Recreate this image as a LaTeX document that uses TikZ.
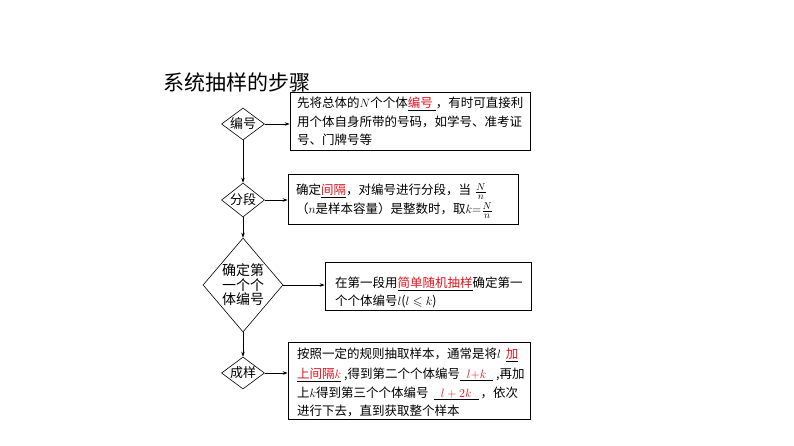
\documentclass[tikz,border=0pt]{standalone}
\usepackage{amsmath}
\usepackage{amssymb}
\usepackage{fontspec}
\setmainfont{Noto Sans CJK SC}
\usetikzlibrary{shapes.geometric,arrows.meta,shadows}
\definecolor{ans}{RGB}{220,20,30}
\newcommand\myfr[2]{\ensuremath{\genfrac{}{}{0.4pt}{}{\mbox{\fontsize{10}{10}\selectfont$#1$}}{\mbox{\fontsize{10}{10}\selectfont$#2$}}}}
\begin{document}
\begin{tikzpicture}[x=1pt,y=-1pt,
  dia/.style={draw, diamond, inner sep=0, line width=0.6pt},
  dtext/.style={inner sep=0, align=center, font=\fontsize{13}{13}\selectfont},
  fbox/.style={draw, fill=white, inner sep=0, line width=0.7pt,
    drop shadow={shadow xshift=0.9pt, shadow yshift=-0.9pt, fill=black!75, opacity=1}},
  txt/.style={anchor=base west, inner sep=0, font=\fontsize{12.5}{12.5}\selectfont},
  conn/.style={line width=0.6pt, -{Stealth[length=5pt,width=3.5pt]}}]
\useasboundingbox (0,0) rectangle (794,446);

\node[anchor=west, inner sep=0, font=\fontsize{21}{21}\selectfont] (title) at (163,82) {系统抽样的步骤};

% diamonds
\node[dia, minimum width=43, minimum height=32] (d1) at (243,124) {};
\node[dtext] (t1) at (d1) {编号};
\node[dia, minimum width=43, minimum height=34] (d2) at (243,200) {};
\node[dtext] (t2) at (d2) {分段};
\node[dia, minimum width=80, minimum height=94] (d3) at (243,285) {};
\node[dtext, font=\fontsize{14}{14.5}\selectfont] (t3) at (d3) {确定第\\一个个\\体编号};
\node[dia, minimum width=43, minimum height=32] (d4) at (243,373) {};
\node[dtext] (t4) at (d4) {成样};

% boxes
\node[fbox, minimum width=240, minimum height=58] (b1) at (410,121) {};
\node[fbox, minimum width=230, minimum height=50] (b2) at (403,199) {};
\node[fbox, minimum width=206, minimum height=48] (b3) at (428,286) {};
\node[fbox, minimum width=242, minimum height=77] (b4) at (409,380.5) {};

% connectors
\draw[conn] (d1.east) -- (d1.east -| b1.west);
\draw[conn] (d2.east) -- (d2.east -| b2.west);
\draw[conn] (d3.east) -- (d3.east -| b3.west);
\draw[conn] (d4.east) -- (d4.east -| b4.west);
\draw[conn] (d1.south) -- (d2.north);
\draw[conn] (d2.south) -- (d3.north);
\draw[conn] (d3.south) -- (d4.north);

% box 1 text
\node[txt] (l11) at (297,108) {先将总体的$N$个个体\underline{\textcolor{ans}{编号}\hspace{3pt}}，有时可直接利};
\node[txt] (l12) at (297,127) {用个体自身所带的号码，如学号、准考证};
\node[txt] (l13) at (297,145) {号、门牌号等};

% box 2 text
\node[txt] (l21) at (296,195) {确定\underline{\textcolor{ans}{间隔}}，对编号进行分段，当\hspace{4pt}\myfr{N}{n}};
\node[txt] (l22) at (296,214) {（$n$是样本容量）是整数时，取$k{=}$\myfr{N}{n}};

% box 3 text
\node[txt] (l31) at (335,287) {在第一段用\underline{\textcolor{ans}{简单随机抽样}}确定第一};
\node[txt] (l32) at (335,305) {个个体编号$l$($l\leqslant k$)};

% box 4 text
\node[txt] (l41) at (297,358) {按照一定的规则抽取样本，通常是将$l$\hspace{5pt}\underline{\textcolor{ans}{加}}};
\node[txt] (l42) at (297,378) {\underline{\textcolor{ans}{上间隔$k$}}\hspace{3pt},得到第二个个体编号\underline{\makebox[33pt][c]{\textcolor{ans}{$l{+}k$}}}\hspace{3pt},再加};
\node[txt] (l43) at (297,397) {上$k$得到第三个个体编号\hspace{5pt}\underline{\makebox[45pt][c]{\textcolor{ans}{$l+2k$}}}\hspace{2pt}，依次};
\node[txt] (l44) at (297,415) {进行下去，直到获取整个样本};
\end{tikzpicture}
\end{document}
